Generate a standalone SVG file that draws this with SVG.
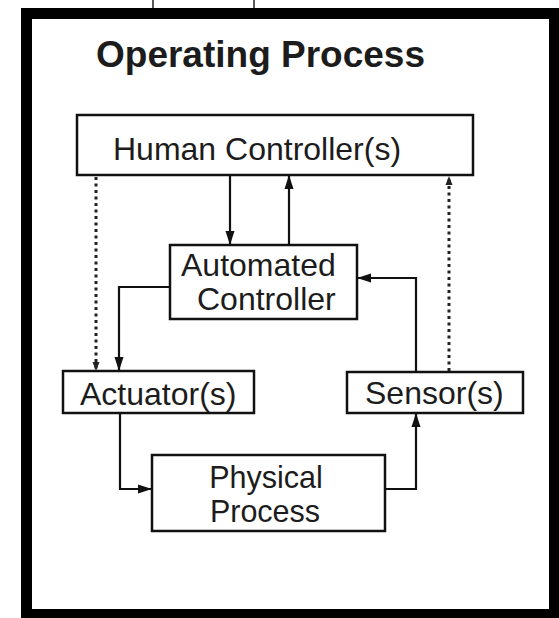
<svg xmlns="http://www.w3.org/2000/svg" width="559" height="618" viewBox="0 0 559 618">
<defs>
<style>
.box{fill:#fff;stroke:#111;stroke-width:2.5}
.lbl{font-family:"Liberation Sans",Arial,sans-serif;font-size:32px;fill:#1c1c1c}
.title{font-family:"Liberation Sans",Arial,sans-serif;font-size:37px;font-weight:bold;fill:#1c1c1c}
.conn{fill:none;stroke:#111;stroke-width:2.2}
.dot{fill:none;stroke:#222;stroke-width:3;stroke-dasharray:3 3.5}
</style>
<marker id="arr" markerUnits="userSpaceOnUse" markerWidth="14" markerHeight="10" refX="14" refY="5" orient="auto">
<path d="M0,0.5 L14,5 L0,9.5 z" fill="#111"/>
</marker>
<marker id="arrs" markerUnits="userSpaceOnUse" markerWidth="9" markerHeight="8" refX="9" refY="4" orient="auto">
<path d="M0,0.5 L9,4 L0,7.5 z" fill="#222"/>
</marker>
</defs>
<g id="frame">
<rect x="21" y="8" width="538" height="610" fill="#000"/>
<rect x="32" y="19" width="517" height="590" fill="#fff"/>
<line x1="153" y1="0" x2="153" y2="8" stroke="#222" stroke-width="1.5"/>
<line x1="254" y1="0" x2="254" y2="8" stroke="#222" stroke-width="1.5"/>
<text class="title" x="96" y="67">Operating Process</text>
</g>
<g id="connectors">
<path class="conn" d="M230,175 L230,245" marker-end="url(#arr)"/>
<path class="conn" d="M289,245 L289,175" marker-end="url(#arr)"/>
<path class="conn" d="M170,287 L119,287 L119,371" marker-end="url(#arr)"/>
<path class="conn" d="M416,372 L416,278 L357,278" marker-end="url(#arr)"/>
<path class="conn" d="M120,413 L120,489 L152,489" marker-end="url(#arr)"/>
<path class="conn" d="M385,489 L416,489 L416,413" marker-end="url(#arr)"/>
<path class="dot" d="M96,177 L96,371" marker-end="url(#arrs)"/>
<path class="dot" d="M449,371 L449,176" marker-end="url(#arrs)"/>
</g>
<g id="human">
<rect class="box" x="77" y="115" width="396" height="60"/>
<text class="lbl" x="113" y="160">Human Controller(s)</text>
</g>
<g id="automated">
<rect class="box" x="170" y="245" width="187" height="74"/>
<text class="lbl"><tspan x="181" y="276">Automated</tspan><tspan x="197" y="310">Controller</tspan></text>
</g>
<g id="actuator">
<rect class="box" x="63" y="371" width="191" height="42"/>
<text class="lbl" x="80" y="405">Actuator(s)</text>
</g>
<g id="sensor">
<rect class="box" x="347" y="372" width="176" height="41"/>
<text class="lbl" x="365" y="404">Sensor(s)</text>
</g>
<g id="physical">
<rect class="box" x="152" y="455" width="233" height="76"/>
<text class="lbl" text-anchor="middle" style="font-size:30.5px"><tspan x="266" y="488">Physical</tspan><tspan x="265" y="522">Process</tspan></text>
</g>
</svg>
